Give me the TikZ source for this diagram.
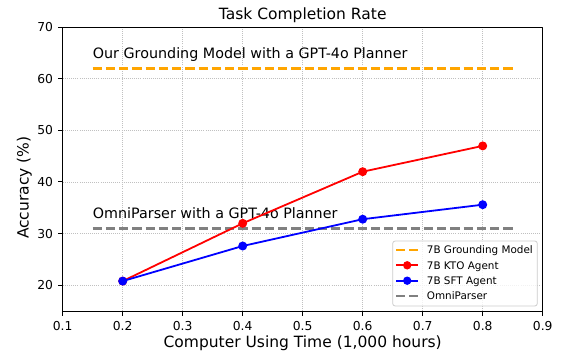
\documentclass[tikz,border=0pt]{standalone}
\usepackage{fontspec}
\setmainfont{DejaVu Sans}
\usetikzlibrary{positioning}
\usepackage{xcolor}
\definecolor{ktored}{RGB}{255,0,0}
\definecolor{sftblue}{RGB}{0,0,255}
\definecolor{groundorange}{RGB}{255,165,0}
\definecolor{omnigray}{RGB}{128,128,128}
\definecolor{gridgray}{RGB}{192,192,192}
\definecolor{legendgray}{RGB}{204,204,204}

\begin{document}
\begin{tikzpicture}[
        line join=round,
        gridline/.style={gridgray, line width=0.8pt, dash pattern=on 0.8pt off 1.3pt},
        baselinedash/.style={line width=2.5pt, dash pattern=on 9.25pt off 4pt},
        agentline/.style={line width=1.8pt},
        ticklabel/.style={inner sep=0pt, font=\fontsize{12.3}{14}\selectfont},
        axislabel/.style={inner sep=0pt, font=\fontsize{15.5}{18}\selectfont},
        notelabel/.style={inner sep=0pt, anchor=base west, font=\fontsize{14.3}{17}\selectfont},
        legendlabel/.style={inner sep=0pt, anchor=base west, font=\fontsize{10.4}{12}\selectfont}
    ]
        \useasboundingbox (0pt, 0pt) rectangle (561pt, 356pt);
        % Grid
        \foreach \x in {122.7pt, 182.7pt, 242.7pt, 302.7pt, 362.7pt, 422.7pt, 482.7pt} {
            \draw[gridline] (\x, 45pt) -- (\x, 328.7pt);
        }
        \foreach \y in {70.8pt, 122.4pt, 174pt, 225.5pt, 277.1pt} {
            \draw[gridline] (62.7pt, \y) -- (542.7pt, \y);
        }
        % Reference planners
        \draw[groundorange, baselinedash] (92.7pt, 287.4pt) -- (512.7pt, 287.4pt);
        \draw[omnigray, baselinedash] (92.7pt, 127.5pt) -- (512.7pt, 127.5pt);
        \node[notelabel] (groundnote) at (92.7pt, 297.7pt) {Our Grounding Model with a GPT-4o Planner};
        \node[notelabel] (omninote) at (92.7pt, 137.8pt) {OmniParser with a GPT-4o Planner};
        % Points
        \coordinate (kto2) at (122.7pt, 74.9pt);
        \coordinate (kto4) at (242.7pt, 132.7pt);
        \coordinate (kto6) at (362.7pt, 184.3pt);
        \coordinate (kto8) at (482.7pt, 210.1pt);
        \coordinate (sft2) at (122.7pt, 74.9pt);
        \coordinate (sft4) at (242.7pt, 110pt);
        \coordinate (sft6) at (362.7pt, 136.8pt);
        \coordinate (sft8) at (482.7pt, 151.3pt);
        % Lines
        \draw[ktored, agentline] (kto2) -- (kto4) -- (kto6) -- (kto8);
        \foreach \p in {kto2, kto4, kto6, kto8} {
            \fill[ktored] (\p) circle (4.5pt);
        }
        \draw[sftblue, agentline] (sft2) -- (sft4) -- (sft6) -- (sft8);
        \foreach \p in {sft2, sft4, sft6, sft8} {
            \fill[sftblue] (\p) circle (4.5pt);
        }
        % Axes
        \draw[line width=1pt] (62.7pt, 45pt) rectangle (542.7pt, 328.7pt);
        % Axis graduation
        \foreach \x/\xtext [count=\i] in {
            62.7pt/0.1,
            122.7pt/0.2,
            182.7pt/0.3,
            242.7pt/0.4,
            302.7pt/0.5,
            362.7pt/0.6,
            422.7pt/0.7,
            482.7pt/0.8,
            542.7pt/0.9} {
            \draw[line width=1pt] (\x, 45pt) -- (\x, 40.5pt) node[ticklabel, anchor=base, yshift=-14.5pt] (xtick\i) {\xtext};
        }
        \foreach \y/\ytext [count=\i] in {
            70.8pt/20,
            122.4pt/30,
            174pt/40,
            225.5pt/50,
            277.1pt/60,
            328.7pt/70} {
            \draw[line width=1pt] (62.7pt, \y) -- (58.2pt, \y) node[ticklabel, anchor=east, xshift=-4.7pt] (ytick\i) {\ytext};
        }
        % Titles
        \node[axislabel, anchor=base] (title) at (302.7pt, 336pt) {Task Completion Rate};
        \node[axislabel, anchor=base] (xlabel) at (302.7pt, 9pt) {Computer Using Time (1,000 hours)};
        \node[axislabel, anchor=base, rotate=90] (ylabel) at (28.5pt, 168.3pt) {Accuracy (\%)};
        % Caption
        \draw[legendgray, line width=0.8pt, fill=white, fill opacity=0.8, rounded corners=2.5pt] (392.7pt, 50pt) rectangle (537.3pt, 115pt);
        \draw[groundorange, baselinedash] (396pt, 106pt) -- (418.3pt, 106pt);
        \node[legendlabel] (legground) at (426.7pt, 102.2pt) {7B Grounding Model};
        \draw[ktored, agentline] (396pt, 90.7pt) -- (418.3pt, 90.7pt);
        \fill[ktored] (407.2pt, 90.7pt) circle (4.2pt);
        \node[legendlabel] (legkto) at (426.7pt, 86.9pt) {7B KTO Agent};
        \draw[sftblue, agentline] (396pt, 75.3pt) -- (418.3pt, 75.3pt);
        \fill[sftblue] (407.2pt, 75.3pt) circle (4.2pt);
        \node[legendlabel] (legsft) at (426.7pt, 71.5pt) {7B SFT Agent};
        \draw[omnigray, baselinedash] (396pt, 60pt) -- (418.3pt, 60pt);
        \node[legendlabel] (legomni) at (426.7pt, 56.2pt) {OmniParser};
    \end{tikzpicture}
\end{document}
